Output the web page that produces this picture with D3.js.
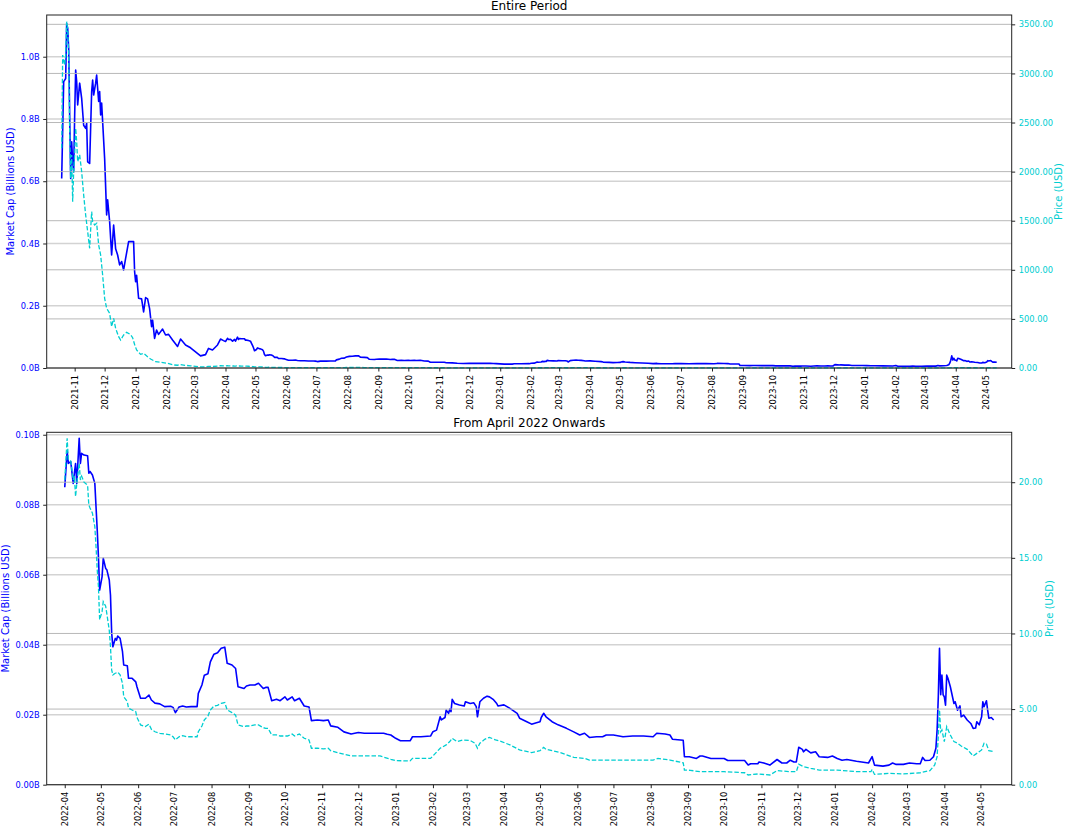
<!DOCTYPE html>
<html>
<head>
<meta charset="utf-8">
<script src="https://cdn.jsdelivr.net/npm/d3@7"></script>
<style>
  html, body { margin: 0; padding: 0; background: #fff; }
  svg { display: block; }
</style>
</head>
<body>
<script>
// ---------------- DATA ----------------
const mcDates = [
  "2021-10-19","2021-10-21","2021-10-22","2021-10-23","2021-10-24","2021-10-25","2021-10-26","2021-10-27","2021-10-28","2021-10-29",
  "2021-10-30","2021-10-31","2021-11-01","2021-11-02","2021-11-03","2021-11-04","2021-11-06","2021-11-08","2021-11-10","2021-11-12",
  "2021-11-13","2021-11-14","2021-11-16","2021-11-18","2021-11-19","2021-11-20","2021-11-22","2021-11-23","2021-11-25","2021-11-26",
  "2021-11-27","2021-11-28","2021-12-01","2021-12-03","2021-12-04","2021-12-06","2021-12-08","2021-12-10","2021-12-12","2021-12-14",
  "2021-12-16","2021-12-18","2021-12-20","2021-12-22","2021-12-25","2021-12-27","2021-12-30","2021-12-31","2022-01-01","2022-01-02",
  "2022-01-04","2022-01-07","2022-01-09","2022-01-11","2022-01-13","2022-01-15","2022-01-17","2022-01-18","2022-01-20","2022-01-22",
  "2022-01-24","2022-01-28","2022-01-31","2022-02-03","2022-02-07","2022-02-12","2022-02-15","2022-02-20","2022-02-25","2022-03-02",
  "2022-03-07","2022-03-12","2022-03-15","2022-03-19","2022-03-24","2022-03-27","2022-03-30",
  "2022-04-01","2022-04-03","2022-04-04","2022-04-06","2022-04-08","2022-04-09","2022-04-10","2022-04-11","2022-04-13","2022-04-14",
  "2022-04-15","2022-04-17","2022-04-20","2022-04-21","2022-04-22","2022-04-24","2022-04-26","2022-04-27","2022-04-28","2022-04-29",
  "2022-04-30","2022-05-02","2022-05-03","2022-05-05","2022-05-06","2022-05-08","2022-05-09","2022-05-10","2022-05-11","2022-05-13",
  "2022-05-14","2022-05-15","2022-05-17","2022-05-19","2022-05-20","2022-05-23","2022-05-24","2022-05-27","2022-05-30","2022-05-31",
  "2022-06-03","2022-06-07","2022-06-10","2022-06-12","2022-06-15","2022-06-19","2022-06-23","2022-06-28","2022-06-30","2022-07-02",
  "2022-07-05","2022-07-08","2022-07-11","2022-07-15","2022-07-20","2022-07-21","2022-07-24","2022-07-26","2022-07-29","2022-07-31",
  "2022-08-03","2022-08-06","2022-08-09","2022-08-12","2022-08-14","2022-08-18","2022-08-21","2022-08-23","2022-08-28","2022-08-30",
  "2022-09-02","2022-09-06","2022-09-09","2022-09-13","2022-09-15","2022-09-17","2022-09-20","2022-09-24","2022-09-27","2022-10-01",
  "2022-10-03","2022-10-07","2022-10-09","2022-10-13","2022-10-17","2022-10-21","2022-10-23","2022-10-28","2022-11-02","2022-11-06",
  "2022-11-08","2022-11-14","2022-11-19","2022-11-25","2022-12-01","2022-12-06","2022-12-14","2022-12-19","2022-12-22","2022-12-25",
  "2022-12-28","2023-01-01","2023-01-05","2023-01-13","2023-01-15","2023-01-22","2023-01-30","2023-02-01","2023-02-04","2023-02-07",
  "2023-02-08","2023-02-11","2023-02-12","2023-02-14","2023-02-15","2023-02-16","2023-02-17","2023-02-19","2023-02-23","2023-02-27",
  "2023-02-28","2023-03-04","2023-03-07","2023-03-09","2023-03-10","2023-03-12","2023-03-15","2023-03-18","2023-03-20","2023-03-23",
  "2023-03-26","2023-03-27","2023-04-01","2023-04-06","2023-04-12","2023-04-14","2023-04-20","2023-04-24","2023-04-28","2023-05-01",
  "2023-05-02","2023-05-04","2023-05-06","2023-05-11","2023-05-16","2023-05-23","2023-05-29","2023-06-03","2023-06-07","2023-06-11",
  "2023-06-17","2023-06-22","2023-06-25","2023-07-01","2023-07-09","2023-07-17","2023-07-26","2023-08-03","2023-08-06","2023-08-13",
  "2023-08-17","2023-08-19","2023-08-28","2023-08-29","2023-09-02","2023-09-08","2023-09-11","2023-09-13","2023-09-20","2023-10-01",
  "2023-10-04","2023-10-18","2023-10-21","2023-10-23","2023-10-29","2023-10-30","2023-11-03","2023-11-08","2023-11-14","2023-11-18",
  "2023-11-22","2023-11-25","2023-11-28","2023-11-30","2023-12-02","2023-12-05","2023-12-06","2023-12-08","2023-12-12","2023-12-16",
  "2023-12-19","2023-12-26","2023-12-30","2024-01-03","2024-01-07","2024-01-11","2024-01-19","2024-01-29","2024-02-01","2024-02-03",
  "2024-02-10","2024-02-15","2024-02-18","2024-02-21","2024-02-27","2024-03-03","2024-03-09","2024-03-12","2024-03-14","2024-03-16",
  "2024-03-20","2024-03-23","2024-03-25","2024-03-26","2024-03-27","2024-03-28","2024-03-29","2024-03-30","2024-03-31","2024-04-01",
  "2024-04-02","2024-04-03","2024-04-04","2024-04-06","2024-04-09","2024-04-10","2024-04-12","2024-04-14","2024-04-15","2024-04-17",
  "2024-04-20","2024-04-23","2024-04-25","2024-04-27","2024-04-28","2024-04-30","2024-05-02","2024-05-03","2024-05-04","2024-05-06",
  "2024-05-07","2024-05-08","2024-05-10","2024-05-12"
];
const mcValues = [
  0.609,0.92,0.925,0.93,1.107,1.091,1.027,0.813,0.609,0.727,
  0.662,0.63,0.813,0.957,0.92,0.845,0.915,0.866,0.78,0.77,
  0.786,0.662,0.657,0.888,0.925,0.877,0.915,0.941,0.856,0.888,
  0.813,0.851,0.673,0.492,0.54,0.47,0.363,0.459,0.383,0.363,
  0.331,0.342,0.315,0.352,0.406,0.406,0.406,0.31,0.277,0.298,
  0.224,0.222,0.18,0.226,0.222,0.191,0.133,0.154,0.095,0.122,
  0.108,0.125,0.106,0.108,0.090,0.069,0.093,0.074,0.065,0.052,
  0.039,0.043,0.063,0.058,0.074,0.093,0.088,
  0.0850,0.0954,0.0918,0.0923,0.0861,0.0890,0.0918,0.0861,0.0990,0.0918,
  0.0947,0.0942,0.0940,0.0890,0.0895,0.0885,0.0861,0.0794,0.0728,0.0651,
  0.0556,0.0594,0.0647,0.0618,0.0614,0.0585,0.0542,0.0433,0.0394,0.0418,
  0.0413,0.0425,0.0418,0.0380,0.0342,0.0340,0.0304,0.0304,0.0294,0.0280,
  0.0247,0.0247,0.0256,0.0242,0.0233,0.0231,0.0223,0.0224,0.0221,0.0206,
  0.0222,0.0225,0.0222,0.0223,0.0223,0.0261,0.0285,0.0313,0.0317,0.0351,
  0.0373,0.0377,0.0390,0.0393,0.0347,0.0342,0.0332,0.0280,0.0275,0.0282,
  0.0285,0.0285,0.0290,0.0275,0.0278,0.0278,0.0240,0.0244,0.0240,0.0251,
  0.0242,0.0251,0.0240,0.0247,0.0225,0.0222,0.0183,0.0185,0.0183,0.0185,
  0.0168,0.0164,0.0151,0.0145,0.0149,0.0147,0.0147,0.0147,0.0147,0.0144,
  0.0142,0.01325,0.01257,0.01254,0.0137,0.0137,0.0139,0.01514,0.0156,0.0194,
  0.0185,0.0192,0.0213,0.0204,0.0216,0.0209,0.0244,0.0232,0.0228,0.0225,
  0.0237,0.0232,0.0234,0.0223,0.0194,0.0237,0.0247,0.0253,0.0251,0.0244,
  0.0232,0.0225,0.0228,0.0218,0.0204,0.0190,0.0180,0.0173,0.0177,0.0180,
  0.0192,0.0204,0.0194,0.0180,0.0171,0.0161,0.0151,0.0142,0.0147,0.0135,
  0.0137,0.0137,0.0142,0.0142,0.0137,0.0139,0.0139,0.0137,0.0147,0.0145,
  0.0142,0.0130,0.0127,0.0080,0.0080,0.0075,0.0082,0.0082,0.0075,0.0075,
  0.0069,0.0069,0.00563,0.0060,0.0060,0.0065,0.0062,0.0056,0.0072,0.0062,
  0.0062,0.0070,0.0065,0.0065,0.0107,0.0101,0.0094,0.0101,0.0091,0.0094,
  0.0080,0.0078,0.0082,0.0075,0.0070,0.0072,0.0067,0.0062,0.0080,0.0056,
  0.0053,0.0056,0.0062,0.0058,0.0058,0.0062,0.0060,0.0060,0.0078,0.0069,
  0.0070,0.0080,0.0104,0.0156,0.0251,0.0390,0.0257,0.0313,0.0257,0.0251,
  0.0227,0.0313,0.0304,0.0280,0.0232,0.0237,0.0213,0.0225,0.0194,0.0199,
  0.0185,0.0175,0.0161,0.0162,0.0180,0.0171,0.0194,0.0237,0.0223,0.0240,
  0.0213,0.0190,0.0192,0.0185
];

const priceDates = [
  "2021-10-19","2021-10-20","2021-10-22","2021-10-23","2021-10-24","2021-10-25","2021-10-26","2021-10-27","2021-10-28","2021-10-29",
  "2021-10-30","2021-10-31","2021-11-01","2021-11-02","2021-11-03","2021-11-04","2021-11-06","2021-11-08","2021-11-10","2021-11-12",
  "2021-11-14","2021-11-16","2021-11-18","2021-11-19","2021-11-21","2021-11-23","2021-11-25","2021-11-27","2021-11-29","2021-12-01",
  "2021-12-03","2021-12-06","2021-12-08","2021-12-10","2021-12-12","2021-12-15","2021-12-17","2021-12-20","2021-12-23","2021-12-27",
  "2021-12-29","2021-12-31","2022-01-02","2022-01-06","2022-01-09","2022-01-13","2022-01-16","2022-01-21","2022-01-26","2022-02-02",
  "2022-02-08","2022-02-12","2022-02-15","2022-02-20","2022-02-25","2022-03-02","2022-03-07","2022-03-12","2022-03-15","2022-03-19",
  "2022-03-24","2022-03-27","2022-03-30",
  "2022-04-01","2022-04-03","2022-04-04","2022-04-06","2022-04-08","2022-04-09","2022-04-10","2022-04-11","2022-04-13","2022-04-14",
  "2022-04-15","2022-04-17","2022-04-20","2022-04-21","2022-04-22","2022-04-24","2022-04-26","2022-04-27","2022-04-28","2022-04-29",
  "2022-04-30","2022-05-02","2022-05-03","2022-05-05","2022-05-06","2022-05-08","2022-05-09","2022-05-10","2022-05-11","2022-05-13",
  "2022-05-14","2022-05-15","2022-05-17","2022-05-19","2022-05-20","2022-05-23","2022-05-24","2022-05-27","2022-05-30","2022-05-31",
  "2022-06-03","2022-06-07","2022-06-10","2022-06-12","2022-06-15","2022-06-19","2022-06-23","2022-06-28","2022-06-30","2022-07-02",
  "2022-07-05","2022-07-08","2022-07-11","2022-07-15","2022-07-20","2022-07-21","2022-07-24","2022-07-26","2022-07-29","2022-07-31",
  "2022-08-03","2022-08-06","2022-08-09","2022-08-12","2022-08-14","2022-08-18","2022-08-21","2022-08-23","2022-08-28","2022-08-30",
  "2022-09-02","2022-09-06","2022-09-09","2022-09-13","2022-09-15","2022-09-17","2022-09-20","2022-09-24","2022-09-27","2022-10-01",
  "2022-10-03","2022-10-07","2022-10-09","2022-10-13","2022-10-17","2022-10-21","2022-10-23","2022-10-28","2022-11-02","2022-11-06",
  "2022-11-08","2022-11-14","2022-11-19","2022-11-25","2022-12-01","2022-12-06","2022-12-14","2022-12-19","2022-12-28","2023-01-01",
  "2023-01-13","2023-01-15","2023-01-30","2023-02-01","2023-02-07","2023-02-12","2023-02-15","2023-02-17","2023-02-21","2023-02-26",
  "2023-03-04","2023-03-08","2023-03-10","2023-03-12","2023-03-16","2023-03-20","2023-03-25","2023-03-30","2023-04-06","2023-04-14",
  "2023-04-24","2023-05-01","2023-05-04","2023-05-06","2023-05-18","2023-05-29","2023-06-07","2023-06-11","2023-07-01","2023-08-03",
  "2023-08-07","2023-08-17","2023-08-28","2023-08-29","2023-09-03","2023-09-11","2023-10-01","2023-10-18","2023-10-21","2023-10-29",
  "2023-11-08","2023-11-14","2023-11-25","2023-11-30","2023-12-02","2023-12-06","2023-12-12","2023-12-19","2024-01-03","2024-01-19",
  "2024-01-31","2024-02-01","2024-02-03","2024-02-15","2024-02-27","2024-03-12","2024-03-20","2024-03-24","2024-03-26","2024-03-27",
  "2024-03-28","2024-03-29","2024-03-30","2024-04-01","2024-04-03","2024-04-06","2024-04-09","2024-04-12","2024-04-15","2024-04-20",
  "2024-04-25","2024-04-28","2024-05-02","2024-05-04","2024-05-06","2024-05-08","2024-05-12"
];
const priceValues = [
  2237,3187,3085,3187,3527,3459,3187,2406,1932,2170,
  1694,2000,2170,2441,2305,2102,2170,2000,1762,1558,
  1389,1219,1592,1490,1457,1474,1253,1151,947,710,
  608,557,421,506,404,319,285,336,363,340,
  309,240,183,139,149,115,92,64,58,48,
  31,28,35,27,22,16,11,12,17,15,
  19,23,21,
  20.15,22.9,21.5,21.4,20.15,20.4,19.05,19.9,21.25,20.15,
  20.4,20.0,19.8,18.5,18.3,17.95,17.06,15.74,14.2,13.1,
  10.9,11.44,12.1,11.8,11.3,10.2,9.13,7.59,7.26,7.37,
  7.4,7.45,7.26,6.7,5.82,5.49,5.05,4.94,4.83,4.46,
  3.95,3.84,4.0,3.66,3.5,3.4,3.35,3.29,3.17,2.96,
  3.17,3.24,3.17,3.17,3.17,3.5,3.88,4.28,4.54,4.94,
  5.2,5.25,5.38,5.43,4.94,4.77,4.6,3.95,3.84,3.88,
  3.88,3.95,3.95,3.77,3.73,3.73,3.29,3.29,3.22,3.22,
  3.22,3.35,3.22,3.35,3.07,2.96,2.41,2.41,2.37,2.41,
  2.25,2.12,2.01,1.9,1.9,1.9,1.9,1.9,1.68,1.59,
  1.57,1.74,1.74,1.9,2.41,2.63,2.85,3.07,2.85,2.96,
  2.92,2.74,2.41,2.74,3.0,3.13,2.96,2.85,2.63,2.3,
  2.12,2.25,2.47,2.34,2.12,1.81,1.74,1.63,1.63,1.63,
  1.74,1.63,1.45,0.97,0.95,0.86,0.86,0.79,0.64,0.71,
  0.64,0.93,0.86,0.86,1.35,1.19,1.08,0.97,0.97,0.86,
  0.86,1.01,0.68,0.75,0.71,0.79,0.93,1.3,1.85,3.2,
  4.94,3.5,3.62,2.85,3.84,3.29,2.85,2.74,2.56,2.34,
  1.9,2.07,2.3,2.74,2.69,2.25,2.18
];

const mcTicksTop = [0, 0.2, 0.4, 0.6, 0.8, 1.0];
const priceTicksTop = [0, 500, 1000, 1500, 2000, 2500, 3000, 3500];
const mcTicksBottom = [0, 0.02, 0.04, 0.06, 0.08, 0.10];
const priceTicksBottom = [0, 5, 10, 15, 20];
const titles = ["Entire Period", "From April 2022 Onwards"];
const mcLabel = "Market Cap (Billions USD)";
const priceLabel = "Price (USD)";
const zoomStart = "2022-04-01";

// ---------------- DRAWING ----------------
const W = 1065, H = 827;
const parse = d3.timeParse("%Y-%m-%d");
const mcData = mcDates.map((d, i) => ({ date: parse(d), v: mcValues[i] }));
const priceData = priceDates.map((d, i) => ({ date: parse(d), v: priceValues[i] }));

const BLUE = "#0000ff";
const CYAN = "#00ced1";
const FONT = "'DejaVu Sans', 'Liberation Sans', sans-serif";

const svg = d3.select("body").append("svg")
  .attr("width", W).attr("height", H)
  .style("font-family", FONT);

const L = 46.7, R = 1011.7;

const panels = [
  { title: titles[0], top: 15, bottom: 368, from: null,
    mcTicks: mcTicksTop, mcFmt: d3.format(".1f"), mcMax: 1.134,
    priceTicks: priceTicksTop, priceMax: 3595 },
  { title: titles[1], top: 432.3, bottom: 784.7, from: parse(zoomStart),
    mcTicks: mcTicksBottom, mcFmt: d3.format(".2f"), mcMax: 0.1007,
    priceTicks: priceTicksBottom, priceMax: 23.3 }
];

panels.forEach(p => {
  const mc = p.from ? mcData.filter(d => d.date >= p.from) : mcData;
  const pr = p.from ? priceData.filter(d => d.date >= p.from) : priceData;
  const first = d3.min(mc, d => d.date), last = d3.max(mc, d => d.date);

  const x = d3.scaleTime()
    .domain([d3.timeDay.offset(first, -15), d3.timeDay.offset(last, 15)])
    .range([L, R]);
  const yMc = d3.scaleLinear().domain([0, p.mcMax]).range([p.bottom, p.top]);
  const yPr = d3.scaleLinear().domain([0, p.priceMax]).range([p.bottom, p.top]);

  const g = svg.append("g");

  // MC grid
  g.append("g").selectAll("line").data(p.mcTicks).join("line")
    .attr("x1", L).attr("x2", R)
    .attr("y1", d => yMc(d)).attr("y2", d => yMc(d))
    .attr("stroke", "#d3d3d3").attr("stroke-width", 1.6);

  // MC line
  g.append("path").datum(mc)
    .attr("fill", "none").attr("stroke", BLUE).attr("stroke-width", 1.6)
    .attr("stroke-linejoin", "round")
    .attr("d", d3.line().x(d => x(d.date)).y(d => yMc(d.v)));

  // price grid
  g.append("g").selectAll("line").data(p.priceTicks).join("line")
    .attr("x1", L).attr("x2", R)
    .attr("y1", d => yPr(d)).attr("y2", d => yPr(d))
    .attr("stroke", "#b8b8b8").attr("stroke-width", 1);

  // price line
  g.append("path").datum(pr)
    .attr("fill", "none").attr("stroke", CYAN).attr("stroke-width", 1.3)
    .attr("stroke-dasharray", "4.5,2")
    .attr("d", d3.line().x(d => x(d.date)).y(d => yPr(d.v)));

  // spines
  g.append("rect").attr("x", L).attr("y", p.top)
    .attr("width", R - L).attr("height", p.bottom - p.top)
    .attr("fill", "none").attr("stroke", "#222").attr("stroke-width", 1);

  // x axis
  const xTicks = d3.timeMonth.range(d3.timeMonth.ceil(first), last);
  const gx = g.append("g").attr("transform", `translate(0,${p.bottom})`)
    .call(d3.axisBottom(x).tickValues(xTicks).tickFormat(d3.timeFormat("%Y-%m"))
      .tickSize(3.5).tickPadding(3.5));
  gx.select(".domain").remove();
  gx.selectAll(".tick line").attr("stroke", "#222");
  gx.selectAll("text")
    .attr("transform", "rotate(-90)")
    .attr("text-anchor", "end")
    .attr("x", -7).attr("y", 0).attr("dy", "0.33em")
    .attr("fill", "#000")
    .style("font-family", FONT).style("font-size", "8.3px");

  // left axis
  const gl = g.append("g").attr("transform", `translate(${L},0)`)
    .call(d3.axisLeft(yMc).tickValues(p.mcTicks).tickFormat(d => p.mcFmt(d) + "B")
      .tickSize(3.5).tickPadding(3.5));
  gl.select(".domain").remove();
  gl.selectAll(".tick line").attr("stroke", "#222");
  gl.selectAll("text").attr("fill", BLUE)
    .style("font-family", FONT).style("font-size", "8.3px");

  // right axis
  const gr = g.append("g").attr("transform", `translate(${R},0)`)
    .call(d3.axisRight(yPr).tickValues(p.priceTicks).tickFormat(d3.format(".2f"))
      .tickSize(3.5).tickPadding(3.5));
  gr.select(".domain").remove();
  gr.selectAll(".tick line").attr("stroke", "#222");
  gr.selectAll("text").attr("fill", CYAN)
    .style("font-family", FONT).style("font-size", "8.3px");

  const wl = d3.max(gl.selectAll("text").nodes(), n => n.getBBox().width);
  const wr = d3.max(gr.selectAll("text").nodes(), n => n.getBBox().width);
  const midY = (p.top + p.bottom) / 2;

  g.append("text")
    .attr("transform", `translate(${L - 7 - wl - 4 - 2.5},${midY}) rotate(-90)`)
    .attr("text-anchor", "middle")
    .attr("fill", BLUE).style("font-size", "10px")
    .text(mcLabel);

  const rx = Math.min(R + 7 + wr + 3 + 7.4, W - 3.5);
  g.append("text")
    .attr("transform", `translate(${rx},${midY}) rotate(-90)`)
    .attr("text-anchor", "middle")
    .attr("fill", CYAN).style("font-size", "10px")
    .text(priceLabel);

  // title
  g.append("text")
    .attr("x", (L + R) / 2).attr("y", p.top - 5)
    .attr("text-anchor", "middle")
    .attr("fill", "#000").style("font-size", "12px")
    .text(p.title);
});
</script>
</body>
</html>
